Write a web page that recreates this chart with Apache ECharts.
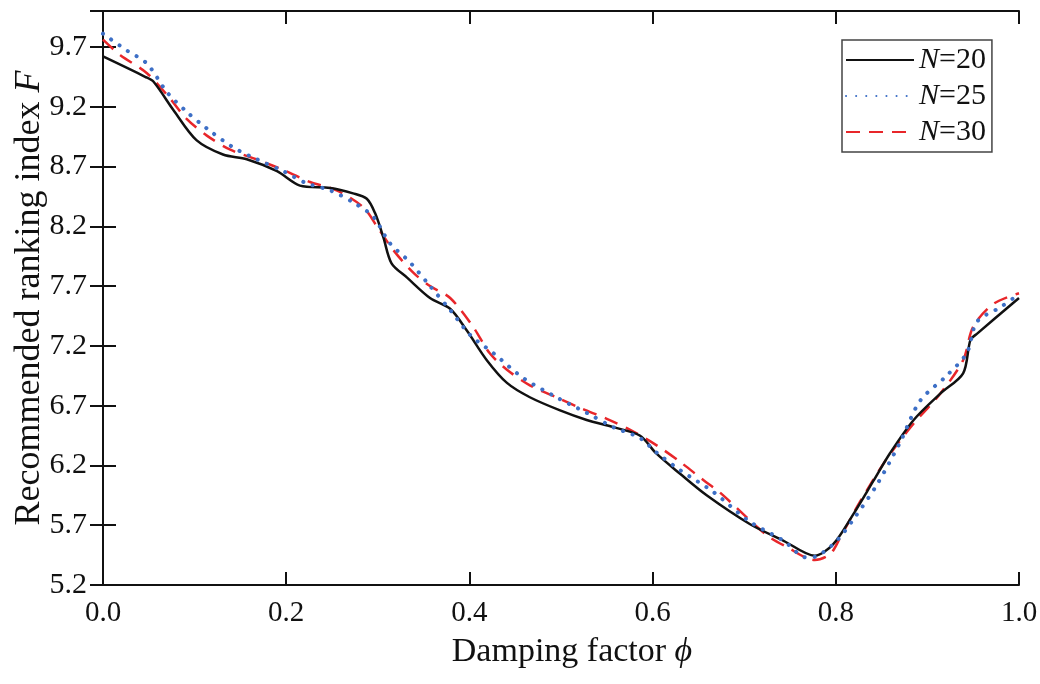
<!DOCTYPE html>
<html>
<head>
<meta charset="utf-8">
<script src="https://cdn.jsdelivr.net/npm/echarts@6/dist/echarts.min.js"></script>
<style>
  html, body { margin: 0; padding: 0; background: #fff; }
  #chart { width: 1040px; height: 684px; }
</style>
</head>
<body>
<div id="chart"></div>
<script>
// damping factor phi and ranking index F
const phi20 = [0.000, 0.046, 0.055, 0.077, 0.102, 0.131, 0.157, 0.190, 0.215, 0.248, 0.273, 0.288, 0.297, 0.306, 0.315, 0.332, 0.357, 0.379, 0.397, 0.419, 0.441, 0.466, 0.499, 0.528, 0.557, 0.586, 0.604, 0.630, 0.659, 0.706, 0.743, 0.777, 0.797, 0.819, 0.841, 0.859, 0.885, 0.914, 0.939, 0.947, 0.954, 1.000]
const f20 = [9.62, 9.45, 9.41, 9.17, 8.92, 8.80, 8.76, 8.66, 8.54, 8.52, 8.475, 8.43, 8.31, 8.11, 7.89, 7.77, 7.60, 7.51, 7.33, 7.08, 6.89, 6.77, 6.66, 6.58, 6.52, 6.45, 6.30, 6.13, 5.95, 5.71, 5.57, 5.445, 5.54, 5.79, 6.07, 6.30, 6.58, 6.80, 6.97, 7.25, 7.30, 7.60]

const phi25 = [0.000, 0.026, 0.048, 0.070, 0.091, 0.113, 0.142, 0.168, 0.197, 0.222, 0.248, 0.273, 0.295, 0.313, 0.335, 0.357, 0.379, 0.401, 0.426, 0.459, 0.495, 0.528, 0.557, 0.586, 0.604, 0.630, 0.666, 0.706, 0.743, 0.768, 0.779, 0.801, 0.823, 0.845, 0.870, 0.892, 0.921, 0.943, 0.954, 0.979, 1.000]
const f25 = [9.81, 9.67, 9.56, 9.32, 9.16, 9.02, 8.86, 8.76, 8.66, 8.56, 8.50, 8.40, 8.28, 8.06, 7.90, 7.70, 7.50, 7.29, 7.14, 6.93, 6.77, 6.64, 6.52, 6.43, 6.31, 6.16, 5.98, 5.73, 5.57, 5.43, 5.44, 5.57, 5.79, 6.04, 6.39, 6.74, 6.95, 7.14, 7.40, 7.52, 7.63]

const phi30 = [0.000, 0.019, 0.048, 0.073, 0.091, 0.113, 0.139, 0.171, 0.200, 0.226, 0.255, 0.284, 0.299, 0.317, 0.339, 0.357, 0.379, 0.404, 0.422, 0.441, 0.466, 0.495, 0.521, 0.550, 0.575, 0.604, 0.630, 0.655, 0.674, 0.724, 0.746, 0.777, 0.794, 0.805, 0.826, 0.856, 0.885, 0.914, 0.939, 0.950, 0.972, 1.000]
const f30 = [9.76, 9.63, 9.48, 9.27, 9.10, 8.96, 8.84, 8.75, 8.66, 8.57, 8.50, 8.36, 8.20, 8.00, 7.81, 7.70, 7.60, 7.36, 7.14, 7.00, 6.87, 6.77, 6.68, 6.59, 6.50, 6.37, 6.23, 6.08, 5.97, 5.62, 5.52, 5.41, 5.46, 5.60, 5.89, 6.26, 6.55, 6.80, 7.08, 7.36, 7.55, 7.64]

const seriesNames = ['20', '25', '30']

const serif = "'Liberation Serif', 'Times New Roman', serif"

function pairs(xs, ys) {
  return xs.map((x, i) => [x, ys[i]])
}

const chart = echarts.init(document.getElementById('chart'))

const frameAxis = {
  axisLine: { show: true, lineStyle: { color: '#111', width: 2 } },
  axisTick: { show: true, inside: true, length: 13, lineStyle: { color: '#111', width: 2 } },
  splitLine: { show: false }
}

chart.setOption({
  animation: false,
  grid: { left: 103, right: 21, top: 11, bottom: 99, outerBoundsMode: 'none' },
  legend: {
    left: 842,
    top: 40,
    orient: 'vertical',
    itemWidth: 68,
    itemHeight: 14,
    itemGap: 6,
    padding: [5, 6, 5, 3],
    borderColor: '#444',
    borderWidth: 1.5,
    backgroundColor: '#fff',
    itemStyle: { opacity: 0 },
    formatter: name => '{i|N}{r|=' + name + '}',
    textStyle: {
      fontFamily: serif,
      fontSize: 30,
      color: '#111',
      rich: {
        i: { fontFamily: serif, fontSize: 30, fontStyle: 'italic', color: '#111' },
        r: { fontFamily: serif, fontSize: 30, color: '#111' }
      }
    }
  },
  xAxis: [
    Object.assign({}, frameAxis, {
      type: 'value',
      min: 0,
      max: 1,
      interval: 0.2,
      name: '{r|Damping factor }{i|ϕ}',
      nameLocation: 'middle',
      nameGap: 50,
      nameMoveOverlap: false,
      nameTextStyle: {
        padding: [0, 0, 0, 22],
        rich: {
          r: { fontFamily: serif, fontSize: 34, color: '#111' },
          i: { fontFamily: serif, fontSize: 34, fontStyle: 'italic', color: '#111' }
        }
      },
      axisLabel: {
        margin: 14,
        fontFamily: serif,
        fontSize: 29,
        color: '#111',
        formatter: v => v.toFixed(1)
      }
    }),
    Object.assign({}, frameAxis, {
      type: 'value',
      position: 'top',
      min: 0,
      max: 1,
      interval: 0.2,
      axisLabel: { show: false }
    })
  ],
  yAxis: [
    Object.assign({}, frameAxis, {
      type: 'value',
      min: 5.2,
      max: 10.0,
      interval: 0.5,
      name: '{r|Recommended ranking index }{i|F}',
      nameLocation: 'middle',
      nameGap: 55,
      nameMoveOverlap: false,
      nameTextStyle: {
        rich: {
          r: { fontFamily: serif, fontSize: 36, color: '#111' },
          i: { fontFamily: serif, fontSize: 36, fontStyle: 'italic', color: '#111' }
        }
      },
      axisLabel: {
        margin: 16,
        fontFamily: serif,
        fontSize: 30,
        color: '#111',
        showMaxLabel: false,
        formatter: v => v.toFixed(1)
      }
    }),
    Object.assign({}, frameAxis, {
      type: 'value',
      position: 'right',
      min: 5.2,
      max: 10.0,
      interval: 0.5,
      axisLabel: { show: false }
    })
  ],
  series: [
    {
      name: seriesNames[0],
      type: 'line',
      symbol: 'none',
      smooth: 0.3,
      data: pairs(phi20, f20),
      lineStyle: { color: '#111', width: 2.5 },
      itemStyle: { color: '#111' },
      z: 3
    },
    {
      name: seriesNames[1],
      type: 'line',
      symbol: 'none',
      smooth: 0.3,
      data: pairs(phi25, f25),
      lineStyle: { color: '#3d6fc6', width: 4, type: [0.1, 10], cap: 'round' },
      itemStyle: { color: '#3d6fc6' },
      z: 4
    },
    {
      name: seriesNames[2],
      type: 'line',
      symbol: 'none',
      smooth: 0.3,
      data: pairs(phi30, f30),
      lineStyle: { color: '#e8262a', width: 2.5, type: [14, 9] },
      itemStyle: { color: '#e8262a' },
      z: 2
    }
  ]
})
</script>
</body>
</html>
